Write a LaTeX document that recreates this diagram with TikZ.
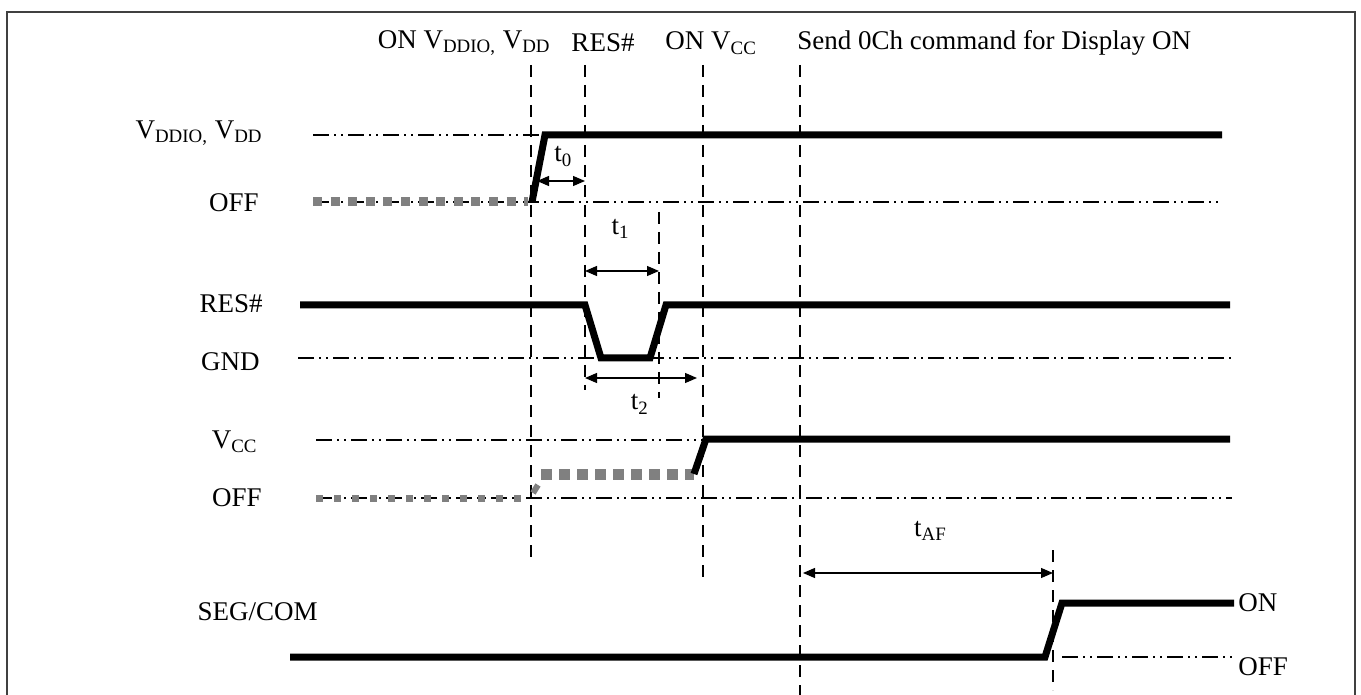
\documentclass[tikz,border=0pt]{standalone}
\usepackage{fontspec}
\setmainfont{Liberation Serif}
\usetikzlibrary{arrows.meta}
\newcommand{\vsub}[1]{\textsubscript{#1}}

\tikzset{
  signal/.style={line width=3.5pt},
  offlevel/.style={gray, line width=4.5pt, dash pattern=on 4.5pt off 4.3pt},
  reflevel/.style={line width=0.6pt, dash pattern=on 8pt off 2.5pt on 1pt off 2.5pt on 1pt off 2.5pt},
  marker/.style={line width=0.8pt, dash pattern=on 6pt off 4pt},
  span/.style={line width=0.6pt, {Triangle[length=6pt,width=5pt]}-{Triangle[length=6pt,width=5pt]}},
  lbl/.style={font=\fontsize{13.5}{16}\selectfont, inner sep=0pt}
}

\begin{document}
\begin{tikzpicture}[x=0.5pt, y=-0.5pt]
  \useasboundingbox (0,0) rectangle (1361,695);
  \draw[line width=1pt, black!75] (7,695) -- (7,12) -- (1355,12) -- (1355,695);

  % events
  \node[lbl, anchor=east] (evvdd) at (551,43) {ON V\vsub{DDIO,} V\vsub{DD}};
  \node[lbl] (evres) at (603,43) {RES\#};
  \node[lbl, anchor=west] (evvcc) at (665,43) {ON V\vsub{CC}};
  \node[lbl, anchor=west] (evcmd) at (797,43) {Send 0Ch command for Display ON};

  \draw[marker] (531,65) -- (531,560);
  \draw[marker] (585,65) -- (585,390);
  \draw[marker] (659,212) -- (659,398);
  \draw[marker] (703,65) -- (703,578);
  \draw[marker] (800,65) -- (800,695);
  \draw[marker] (1053,550) -- (1053,690);

  % levels
  \node[lbl, anchor=east] (lvdd) at (263,133) {V\vsub{DDIO,} V\vsub{DD}};
  \node[lbl, anchor=east] (lvddoff) at (259,203) {OFF};
  \node[lbl, anchor=east] (lres) at (263,304) {RES\#};
  \node[lbl, anchor=east] (lgnd) at (260,362) {GND};
  \node[lbl, anchor=east] (lvcc) at (258,442) {V\vsub{CC}};
  \node[lbl, anchor=east] (lvccoff) at (262,498) {OFF};
  \node[lbl, anchor=east] (lseg) at (318,612) {SEG/COM};
  \node[lbl, anchor=west] (lsegon) at (1238,603) {ON};
  \node[lbl, anchor=west] (lsegoff) at (1238,667) {OFF};

  \draw[reflevel] (313,135) -- (545,135);
  \draw[reflevel] (313,202) -- (1222,202);
  \draw[reflevel] (298,358) -- (1232,358);
  \draw[reflevel] (316,440) -- (706,440);
  \draw[reflevel] (316,498) -- (1232,498);
  \draw[reflevel] (1062,657) -- (1236,657);

  % VDDIO, VDD
  \draw[offlevel] (313,202) -- (528,202);
  \draw[signal] (532,202) -- (545,135) -- (1222,135);

  % RES#
  \draw[signal] (300,305) -- (585,305) -- (601,358) -- (650,358) -- (666,305) -- (1230,305);

  % VCC
  \draw[offlevel, line width=3.5pt, dash pattern=on 3.5pt off 5.5pt] (316,498) -- (528,498);
  \draw[gray, line width=3pt] (533,493) -- (538,485);
  \draw[offlevel, line width=5.5pt, dash pattern=on 5.5pt off 3.5pt] (541,474) -- (694,474);
  \draw[signal] (694,474) -- (706,439) -- (1230,439);

  % SEG/COM
  \draw[signal] (290,657) -- (1045,657) -- (1062,603) -- (1234,603);

  % timing
  \draw[span] (537,181) -- (585,181) node[lbl, pos=0.55, above=7pt] (tzero) {t\vsub{0}};
  \draw[span] (585,271) -- (659,271) node[lbl, pos=0.48, above=16pt] (tone) {t\vsub{1}};
  \draw[span] (585,378) -- (697,378) node[lbl, pos=0.49, below=8pt] (ttwo) {t\vsub{2}};
  \draw[span] (803,573) -- (1053,573) node[lbl, pos=0.51, above=16pt] (taf) {t\vsub{AF}};
\end{tikzpicture}
\end{document}
